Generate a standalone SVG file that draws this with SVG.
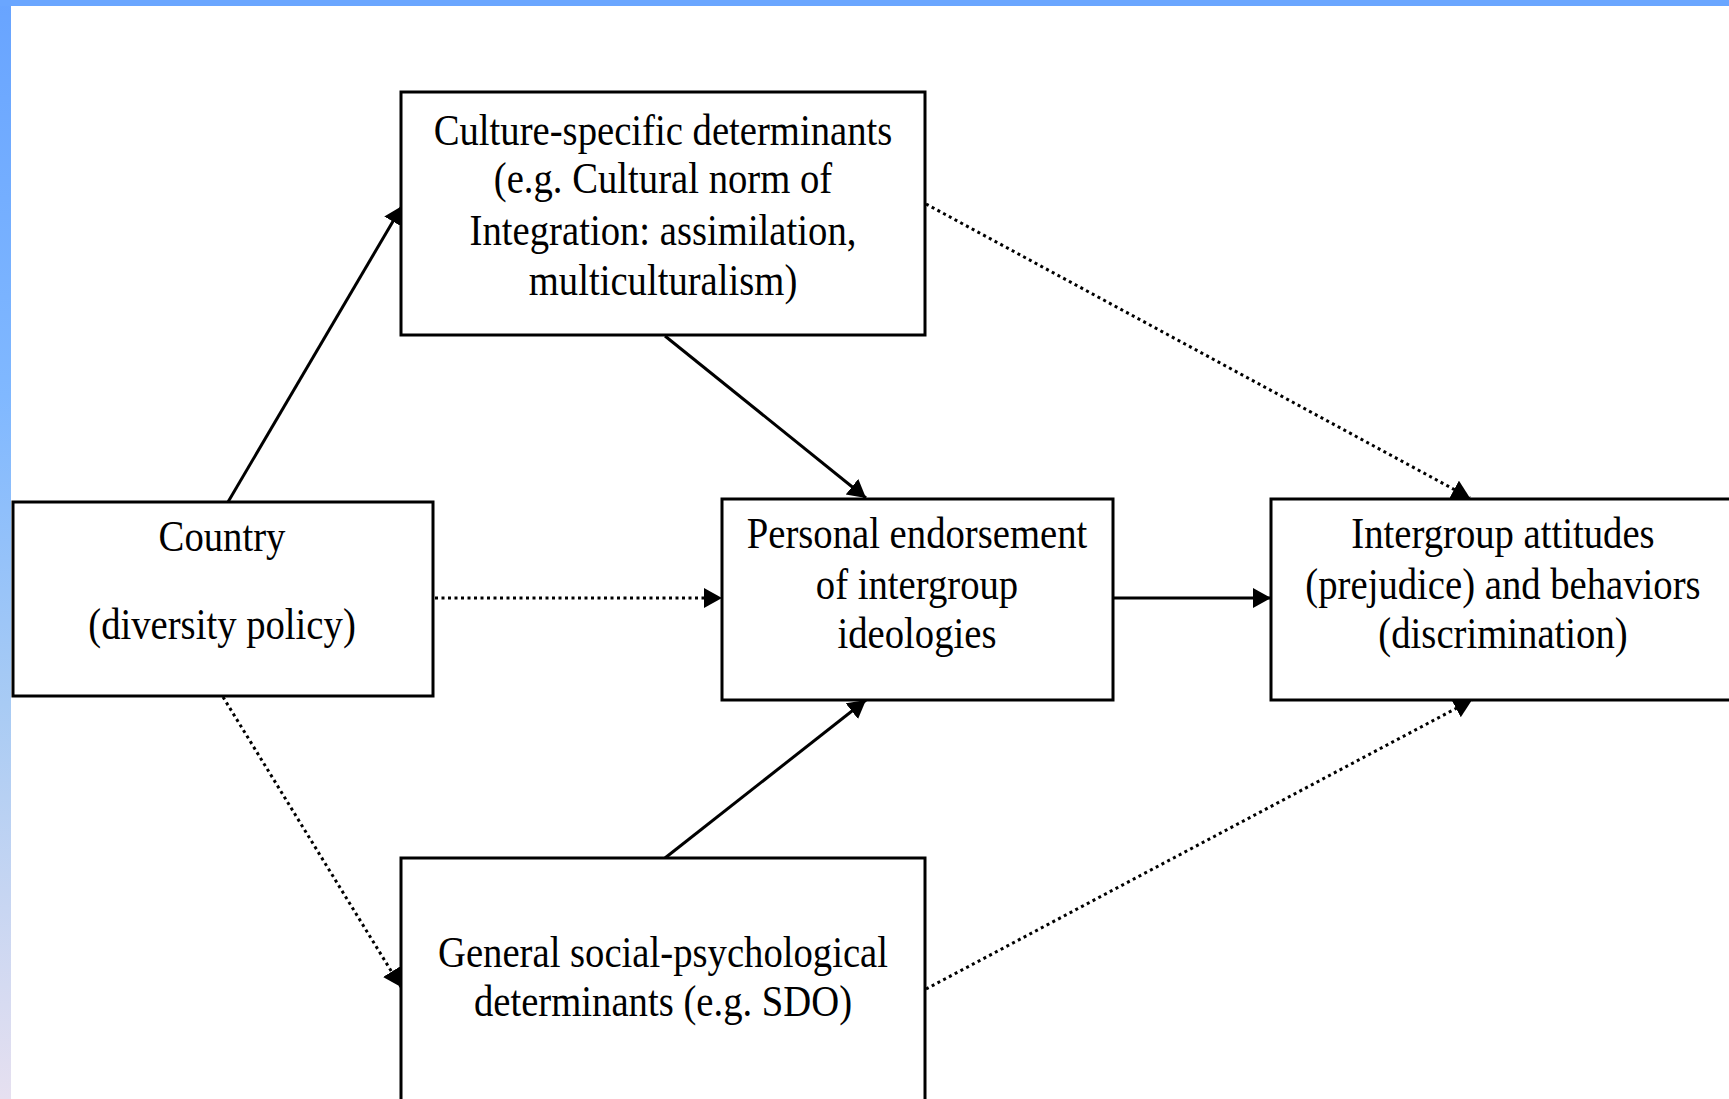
<svg xmlns="http://www.w3.org/2000/svg" width="1729" height="1099" viewBox="0 0 1729 1099">
  <defs>
    <linearGradient id="sidebar" x1="0" y1="0" x2="0" y2="1">
      <stop offset="0" stop-color="#68a4ff"/>
      <stop offset="0.36" stop-color="#80b8ff"/>
      <stop offset="0.64" stop-color="#a8cbf4"/>
      <stop offset="1" stop-color="#e6e0f0"/>
    </linearGradient>
    <marker id="arrow" markerUnits="userSpaceOnUse" markerWidth="20" markerHeight="22" refX="18" refY="10" orient="auto">
      <path d="M0,0 L18,10 L0,20 z" fill="#000"/>
    </marker>
    <style>
      .box { fill: #fff; stroke: #000; stroke-width: 3; }
      .t { font-family: "Liberation Serif", "Times New Roman", serif; font-size: 45px; text-anchor: middle; fill: #000; }
      .solid { stroke: #000; stroke-width: 3; fill: none; marker-end: url(#arrow); }
      .dot { stroke: #000; stroke-width: 3; fill: none; stroke-dasharray: 3 3.5; marker-end: url(#arrow); }
    </style>
  </defs>

  <rect x="0" y="0" width="1729" height="1099" fill="#fff"/>
  <rect x="0" y="0" width="11" height="1099" fill="url(#sidebar)"/>
  <rect x="0" y="0" width="1729" height="6" fill="#6aa6ff"/>

  <g id="connectors">
    <line class="solid" x1="228" y1="502" x2="402" y2="206"/>
    <line class="solid" x1="665" y1="336" x2="866" y2="498"/>
    <line class="solid" x1="665" y1="858" x2="866" y2="700"/>
    <line class="solid" x1="1113" y1="598" x2="1271" y2="598"/>
    <line class="dot" x1="435" y1="598" x2="722" y2="598"/>
    <line class="dot" x1="926" y1="204" x2="1470" y2="498"/>
    <line class="dot" x1="223" y1="697" x2="401" y2="987"/>
    <line class="dot" x1="926" y1="989" x2="1472" y2="700"/>
  </g>

  <g id="node-culture">
    <rect class="box" x="401" y="92" width="524" height="243"/>
    <g transform="translate(663,0) scale(0.86,1)">
      <text class="t" x="0" y="145">Culture-specific determinants</text>
      <text class="t" x="0" y="193">(e.g. Cultural norm of</text>
      <text class="t" x="0" y="245">Integration: assimilation,</text>
      <text class="t" x="0" y="295">multiculturalism)</text>
    </g>
  </g>

  <g id="node-country">
    <rect class="box" x="13" y="502" width="420" height="194"/>
    <g transform="translate(222,0) scale(0.86,1)">
      <text class="t" x="0" y="551">Country</text>
      <text class="t" x="0" y="639">(diversity policy)</text>
    </g>
  </g>

  <g id="node-personal">
    <rect class="box" x="722" y="499" width="391" height="201"/>
    <g transform="translate(917,0) scale(0.86,1)">
      <text class="t" x="0" y="548">Personal endorsement</text>
      <text class="t" x="0" y="599">of intergroup</text>
      <text class="t" x="0" y="648">ideologies</text>
    </g>
  </g>

  <g id="node-intergroup">
    <rect class="box" x="1271" y="499" width="470" height="201"/>
    <g transform="translate(1503,0) scale(0.86,1)">
      <text class="t" x="0" y="548">Intergroup attitudes</text>
      <text class="t" x="0" y="599">(prejudice) and behaviors</text>
      <text class="t" x="0" y="648">(discrimination)</text>
    </g>
  </g>

  <g id="node-general">
    <rect class="box" x="401" y="858" width="524" height="260"/>
    <g transform="translate(663,0) scale(0.86,1)">
      <text class="t" x="0" y="967">General social-psychological</text>
      <text class="t" x="0" y="1016">determinants (e.g. SDO)</text>
    </g>
  </g>
</svg>
